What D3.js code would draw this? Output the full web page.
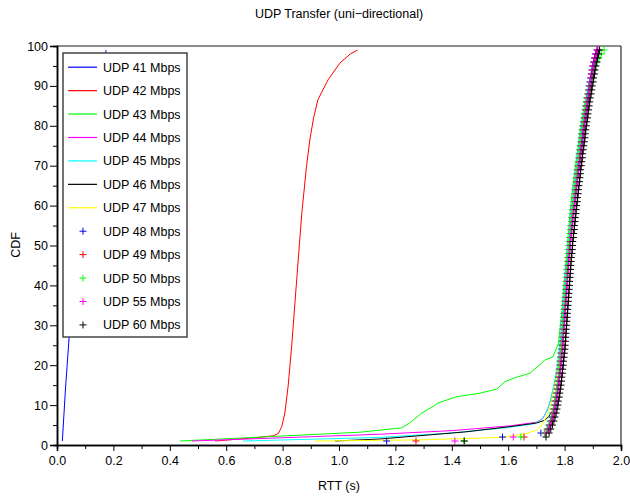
<!DOCTYPE html>
<html><head><meta charset="utf-8">
<script src="https://cdn.jsdelivr.net/npm/d3@7"></script>
<style>body{margin:0;background:#fff}svg{display:block}text{font-family:"Liberation Sans",Arial,sans-serif}</style>
</head><body><svg id="c" width="630" height="497"></svg>
<script>
// ---------- data ----------
const titleText = "UDP Transfer (uni\u2212directional)";
const xLabel = "RTT (s)";
const yLabel = "CDF";
const xTicks = [0.0,0.2,0.4,0.6,0.8,1.0,1.2,1.4,1.6,1.8,2.0];
const xMinorTicks = [0.1,0.3,0.5,0.7,0.9,1.1,1.3,1.5,1.7,1.9];
const yTicks = [0,10,20,30,40,50,60,70,80,90,100];
const yMinorTicks = [5,15,25,35,45,55,65,75,85,95];

const lineNames = ["UDP 41 Mbps","UDP 42 Mbps","UDP 43 Mbps","UDP 44 Mbps","UDP 45 Mbps","UDP 46 Mbps","UDP 47 Mbps"];
const lineColors = ["#0000ff","#ff0000","#00ff00","#ff00ff","#00ffff","#000000","#ffff00"];
const markerNames = ["UDP 48 Mbps","UDP 49 Mbps","UDP 50 Mbps","UDP 55 Mbps","UDP 60 Mbps"];
const markerColors = ["#0000ff","#ff0000","#00ff00","#ff00ff","#000000"];

// line series: [rtt, cdf]
const udp41 = [[0.019,1],[0.030,14],[0.043,27],[0.07,42],[0.10,58],[0.13,75],[0.155,90],[0.174,99]];
const udp42 = [[0.56,1],[0.70,1.8],[0.767,2.3],[0.785,2.9],[0.797,4.6],[0.808,8],[0.82,15],[0.832,24.6],[0.85,41.4],[0.868,58],[0.885,70],[0.897,76.7],[0.91,82],[0.925,86.5],[0.961,91.5],[1.003,95.7],[1.04,98],[1.066,99]];
const udp43 = [[0.436,1],[1.074,3.2],[1.222,4.3],[1.25,5.5],[1.293,8],[1.333,9.6],[1.35,10.5],[1.417,12.1],[1.5,13],[1.559,14],[1.589,15.9],[1.63,17],[1.677,18],[1.71,20],[1.73,21.3],[1.759,22.1],[1.778,25.5],[1.79,33],[1.80,42],[1.812,52],[1.822,60],[1.835,68],[1.858,80],[1.875,87],[1.895,93],[1.91,97],[1.92,99]];
const udp44 = [[0.478,1],[1.145,2.7],[1.4,3.6],[1.606,4.8],[1.70,5.7],[1.722,6.6],[1.737,8.5],[1.75,11],[1.765,15.5],[1.778,20],[1.793,30],[1.803,40],[1.814,50],[1.828,60],[1.844,70],[1.863,80],[1.887,90],[1.905,96],[1.913,99]];
const udp45 = [[0.66,1],[1.145,1.9],[1.4,3.0],[1.60,4.4],[1.69,5.3],[1.715,6.2],[1.73,7.5],[1.745,10],[1.762,15],[1.775,20],[1.79,30],[1.80,40],[1.812,50],[1.826,60],[1.842,70],[1.86,80],[1.884,90],[1.902,96],[1.912,99]];
const udp46 = [[0.986,1],[1.145,1.5],[1.45,3.3],[1.606,4.6],[1.70,5.5],[1.73,6.2],[1.742,7],[1.76,8.8],[1.772,13.8],[1.784,20.5],[1.795,28.8],[1.804,37.2],[1.811,45.5],[1.82,52],[1.834,60],[1.849,68],[1.872,80.6],[1.89,89],[1.908,96.5],[1.916,99.4]];
const udp47 = [[0.915,1],[1.3,1.3],[1.58,1.9],[1.66,2.8],[1.70,3.7],[1.72,5],[1.735,7],[1.75,10],[1.765,15],[1.78,20],[1.795,30],[1.805,40],[1.815,50],[1.83,60],[1.845,70],[1.865,80],[1.888,90],[1.905,96],[1.915,99]];

// marker series: rtt at each CDF level
const markerCdf = [1,2,3,4,5,6,7,8,9,10,11,12,13,14,15,16,17,18,19,20,21,22,23,24,25,26,27,28,29,30,31,32,33,34,35,36,37,38,39,40,41,42,43,44,45,46,47,48,49,50,51,52,53,54,55,56,57,58,59,60,61,62,63,64,65,66,67,68,69,70,71,72,73,74,75,76,77,78,79,80,81,82,83,84,85,86,87,88,89,90,91,92,93,94,95,96,97,98,99];
const udp48 = [1.169,1.580,1.716,1.740,1.746,1.751,1.755,1.759,1.762,1.765,1.767,1.770,1.772,1.774,1.776,1.778,1.779,1.781,1.782,1.784,1.785,1.787,1.788,1.790,1.791,1.792,1.793,1.794,1.795,1.796,1.797,1.798,1.799,1.800,1.801,1.802,1.803,1.804,1.805,1.806,1.807,1.808,1.809,1.810,1.811,1.812,1.813,1.815,1.816,1.817,1.818,1.820,1.821,1.823,1.824,1.826,1.827,1.829,1.830,1.832,1.834,1.835,1.837,1.838,1.840,1.842,1.843,1.845,1.846,1.848,1.850,1.852,1.853,1.855,1.857,1.859,1.861,1.862,1.864,1.866,1.868,1.870,1.872,1.874,1.876,1.878,1.880,1.883,1.885,1.887,1.890,1.892,1.895,1.897,1.900,1.903,1.906,1.910,1.915];
const udp49 = [1.273,1.656,1.730,1.742,1.748,1.753,1.757,1.761,1.764,1.767,1.769,1.772,1.774,1.776,1.778,1.780,1.781,1.783,1.784,1.786,1.787,1.789,1.790,1.792,1.793,1.794,1.795,1.796,1.797,1.798,1.799,1.800,1.801,1.802,1.803,1.804,1.805,1.806,1.807,1.808,1.809,1.810,1.811,1.812,1.813,1.814,1.815,1.817,1.818,1.819,1.820,1.822,1.823,1.825,1.826,1.828,1.829,1.831,1.832,1.834,1.836,1.837,1.839,1.840,1.842,1.844,1.845,1.847,1.848,1.850,1.852,1.854,1.855,1.857,1.859,1.861,1.863,1.864,1.866,1.868,1.870,1.872,1.874,1.876,1.878,1.880,1.882,1.885,1.887,1.889,1.892,1.894,1.897,1.899,1.902,1.905,1.908,1.912,1.917];
const udp50 = [1.444,1.645,1.728,1.738,1.744,1.749,1.753,1.757,1.760,1.763,1.765,1.768,1.770,1.772,1.774,1.776,1.777,1.779,1.780,1.782,1.783,1.785,1.786,1.788,1.789,1.790,1.791,1.792,1.793,1.794,1.795,1.796,1.797,1.798,1.799,1.800,1.801,1.802,1.803,1.804,1.805,1.806,1.807,1.808,1.809,1.810,1.811,1.813,1.814,1.815,1.816,1.818,1.819,1.821,1.822,1.824,1.825,1.827,1.828,1.830,1.832,1.833,1.835,1.836,1.838,1.840,1.841,1.843,1.844,1.846,1.848,1.850,1.851,1.853,1.855,1.857,1.859,1.860,1.862,1.864,1.866,1.868,1.870,1.872,1.874,1.877,1.880,1.883,1.886,1.889,1.892,1.896,1.900,1.904,1.909,1.915,1.922,1.930,1.940];
const udp55 = [1.411,1.618,1.735,1.743,1.749,1.754,1.758,1.762,1.765,1.768,1.770,1.773,1.775,1.777,1.779,1.781,1.782,1.784,1.785,1.787,1.788,1.790,1.791,1.793,1.794,1.795,1.796,1.797,1.798,1.799,1.800,1.801,1.802,1.803,1.804,1.805,1.806,1.807,1.808,1.809,1.810,1.811,1.812,1.813,1.814,1.815,1.816,1.818,1.819,1.820,1.821,1.823,1.824,1.826,1.827,1.829,1.830,1.832,1.833,1.835,1.837,1.838,1.840,1.841,1.843,1.845,1.846,1.848,1.849,1.851,1.853,1.855,1.856,1.858,1.860,1.862,1.864,1.865,1.867,1.869,1.871,1.873,1.875,1.877,1.879,1.881,1.883,1.886,1.888,1.890,1.893,1.895,1.898,1.900,1.903,1.906,1.909,1.913,1.918];
const udp60 = [1.444,1.734,1.745,1.751,1.757,1.762,1.766,1.770,1.773,1.776,1.778,1.781,1.783,1.785,1.787,1.789,1.790,1.792,1.793,1.795,1.796,1.798,1.799,1.801,1.802,1.803,1.804,1.805,1.806,1.807,1.808,1.809,1.810,1.811,1.812,1.813,1.814,1.815,1.816,1.817,1.818,1.819,1.820,1.821,1.822,1.823,1.824,1.826,1.827,1.828,1.829,1.831,1.832,1.834,1.835,1.837,1.838,1.840,1.841,1.843,1.845,1.846,1.848,1.849,1.851,1.853,1.854,1.856,1.857,1.859,1.861,1.863,1.864,1.866,1.868,1.870,1.872,1.873,1.875,1.877,1.879,1.881,1.883,1.885,1.887,1.889,1.891,1.894,1.896,1.898,1.901,1.903,1.906,1.908,1.911,1.914,1.917,1.920,1.924];

const lineSeries = [udp41,udp42,udp43,udp44,udp45,udp46,udp47];
const markerSeries = [udp48,udp49,udp50,udp55,udp60];

// ---------- layout ----------
const M = {left:57, right:621, top:46, bottom:445};
const svg = d3.select("#c");
const x = d3.scaleLinear().domain([0,2]).range([M.left,M.right]);
const y = d3.scaleLinear().domain([0,100]).range([M.bottom,M.top]);
const FS = 12.5;

// title
svg.append("text").attr("x",339).attr("y",18).attr("text-anchor","middle").attr("font-size",FS).text(titleText);

// frame (top and right)
svg.append("line").attr("x1",M.left).attr("x2",M.right).attr("y1",M.top).attr("y2",M.top).attr("stroke","#666").attr("stroke-width",1.5);
svg.append("line").attr("x1",M.right).attr("x2",M.right).attr("y1",M.top).attr("y2",M.bottom).attr("stroke","#000").attr("stroke-width",1);

// x axis
svg.append("g").attr("transform",`translate(0,${M.bottom})`)
  .call(d3.axisBottom(x).tickValues(xMinorTicks).tickSize(4).tickFormat(""));
svg.append("g").attr("transform",`translate(0,${M.bottom})`)
  .call(d3.axisBottom(x).tickValues(xTicks).tickSize(6).tickPadding(5).tickFormat(d3.format(".1f")));
// y axis
svg.append("g").attr("transform",`translate(${M.left},0)`)
  .call(d3.axisLeft(y).tickValues(yMinorTicks).tickSize(4).tickFormat(""));
svg.append("g").attr("transform",`translate(${M.left},0)`)
  .call(d3.axisLeft(y).tickValues(yTicks).tickSize(7).tickPadding(2).tickFormat(d3.format("d")));
svg.selectAll(".domain").attr("stroke","#000").attr("stroke-width",1.5);
svg.selectAll(".tick line").attr("stroke","#000");
svg.selectAll(".tick text").attr("font-size",FS).attr("fill","#000").attr("font-family","Liberation Sans, Arial, sans-serif");

// axis labels
svg.append("text").attr("x",339).attr("y",490).attr("text-anchor","middle").attr("font-size",FS).text(xLabel);
svg.append("text").attr("transform","translate(20,245) rotate(-90)").attr("text-anchor","middle").attr("font-size",FS).text(yLabel);

// lines
const lineGen = d3.line().x(d=>x(d[0])).y(d=>y(d[1]));
const plot = svg.append("g");
lineSeries.forEach((s,i)=>{
  plot.append("path").attr("d",lineGen(s)).attr("fill","none").attr("stroke",lineColors[i]).attr("stroke-width",1);
});
const plusPath = "M-3.5,0H3.5M0,-3.5V3.5";
markerSeries.forEach((s,i)=>{
  plot.append("g").selectAll("path").data(s).join("path")
    .attr("transform",(d,j)=>`translate(${x(d)},${y(markerCdf[j])})`)
    .attr("d",plusPath).attr("fill","none").attr("stroke",markerColors[i]).attr("stroke-width",1);
});

// legend
const L = {x:63, y:53, w:124, h:284, row0:67.2, step:23.43};
const lg = svg.append("g");
lg.append("rect").attr("x",L.x).attr("y",L.y).attr("width",L.w).attr("height",L.h).attr("fill","#fff").attr("stroke","#444").attr("stroke-width",1.5);
const allNames = lineNames.concat(markerNames);
allNames.forEach((n,i)=>{
  const yy = L.row0 + i*L.step;
  if(i<lineNames.length){
    lg.append("line").attr("x1",68).attr("x2",97).attr("y1",yy).attr("y2",yy).attr("stroke",lineColors[i]).attr("stroke-width",1.2);
  } else {
    lg.append("path").attr("transform",`translate(83,${yy})`).attr("d",plusPath).attr("fill","none").attr("stroke",markerColors[i-lineNames.length]).attr("stroke-width",1);
  }
  lg.append("text").attr("x",103).attr("y",yy+4.5).attr("font-size",FS).text(n);
});
</script></body></html>
